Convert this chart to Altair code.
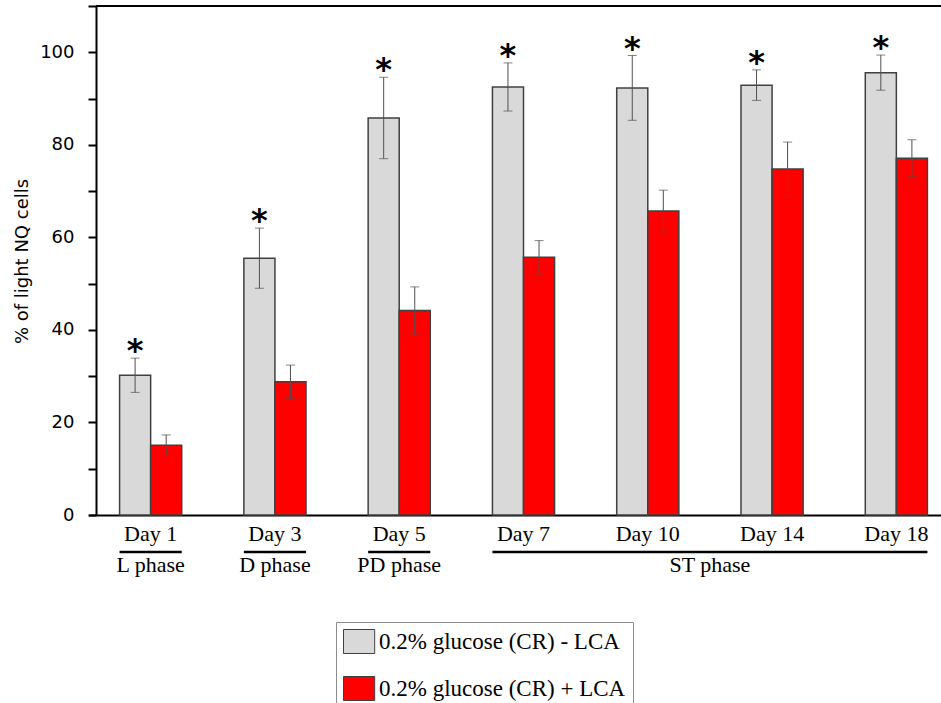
import altair as alt
import pandas as pd

days = ["Day 1", "Day 3", "Day 5", "Day 7", "Day 10", "Day 14", "Day 18"]
groups = ["0.2% glucose (CR) - LCA", "0.2% glucose (CR) + LCA"]
minus_mean = [30.2, 55.5, 85.8, 92.5, 92.3, 92.9, 95.6]
minus_err = [3.7, 6.5, 8.8, 5.2, 7.0, 3.3, 3.8]
plus_mean = [15.1, 28.8, 44.2, 55.7, 65.7, 74.8, 77.1]
plus_err = [2.2, 3.6, 5.1, 3.6, 4.5, 5.8, 4.0]
significant = [True, True, True, True, True, True, True]

phase_names = ["L phase", "D phase", "PD phase", "ST phase"]
phase_first = ["Day 1", "Day 3", "Day 5", "Day 7"]
phase_last = ["Day 1", "Day 3", "Day 5", "Day 18"]
phase_label_at = ["Day 1", "Day 3", "Day 5", "Day 10"]

colors = ["#d9d9d9", "#ff0000"]

rows = []
for g, means, errs in [(groups[0], minus_mean, minus_err), (groups[1], plus_mean, plus_err)]:
    for i, d in enumerate(days):
        rows.append({"day": d, "group": g, "mean": means[i],
                     "lo": means[i] - errs[i], "hi": means[i] + errs[i],
                     "sig": significant[i] if g == groups[0] else False})
df = pd.DataFrame(rows)
phases = pd.DataFrame({"phase": phase_names, "first": phase_first,
                       "last": phase_last, "label_at": phase_label_at})

W, H = 845, 509
xs = alt.Scale(domain=days, range=[-7.5, 862.5], paddingInner=0, paddingOuter=0)
xo = alt.XOffset("group:N", scale=alt.Scale(domain=groups, paddingInner=0, paddingOuter=1))
ys = alt.Scale(domain=[0, 110], nice=False, zero=True)

yaxis = alt.Axis(values=list(range(0, 111, 10)),
                 labelExpr="datum.value % 20 == 0 ? datum.label : ''",
                 tickSize=8, tickWidth=2, tickColor="black",
                 domainColor="black", domainWidth=2, grid=False,
                 labelFont="DejaVu Sans", labelFontSize=18, labelColor="black",
                 labelPadding=14, title="% of light NQ cells",
                 titleFont="DejaVu Sans", titleFontSize=18, titleFontWeight="normal",
                 titleColor="black", titleX=-74, titleY=255, titleAlign="center",
                 titleBaseline="middle", titleAngle=270)
xaxis = alt.Axis(title=None, ticks=False, tickSize=0, domainColor="black", domainWidth=2,
                 labelFont="Liberation Serif", labelFontSize=22, labelColor="black",
                 labelPadding=8, labelAngle=0, grid=False)

base = alt.Chart(df)
X = alt.X("day:N", scale=xs, axis=xaxis)

bars = base.mark_bar(stroke="#404040", strokeWidth=1.5).encode(
    x=X,
    xOffset=xo,
    y=alt.Y("mean:Q", scale=ys, axis=yaxis),
    color=alt.Color("group:N", scale=alt.Scale(domain=groups, range=colors),
                    legend=alt.Legend(title=None, orient="none", legendX=240, legendY=616,
                                      padding=7, strokeColor="#8c8c8c", fillColor="white",
                                      symbolType="M-1,-1H1.6V1H-1Z", symbolSize=576,
                                      symbolStrokeColor="#404040", symbolStrokeWidth=1,
                                      symbolOpacity=1,
                                      labelFont="Liberation Serif", labelFontSize=23,
                                      labelColor="black", labelOffset=11, rowPadding=18,
                                      labelLimit=400)),
)

errs = base.mark_rule(color="#505050", strokeWidth=1).encode(
    x=X, xOffset=xo, y=alt.Y("lo:Q", scale=ys, axis=yaxis), y2="hi:Q")
cap_hi = base.mark_tick(color="#505050", thickness=1, size=9).encode(
    x=X, xOffset=xo, y=alt.Y("hi:Q", scale=ys, axis=yaxis))
cap_lo = base.mark_tick(color="#505050", thickness=1, size=9).encode(
    x=X, xOffset=xo, y=alt.Y("lo:Q", scale=ys, axis=yaxis))

stars = base.transform_filter("datum.sig").mark_text(
    text="*", font="DejaVu Sans", fontWeight="bold", fontSize=32,
    baseline="alphabetic", dy=3, color="black").encode(
    x=X, xOffset=xo, y=alt.Y("hi:Q", scale=ys, axis=yaxis))

top_line = alt.Chart(df).mark_rule(color="black", strokeWidth=2).encode(
    y=alt.datum(110, scale=ys, axis=yaxis))

pbase = alt.Chart(phases)
phase_lines = pbase.mark_rule(color="black", strokeWidth=2.5).encode(
    x=alt.X("first:N", scale=xs, axis=xaxis, bandPosition=0.25),
    x2=alt.X2("last:N", bandPosition=0.75),
    y=alt.value(H + 37))
phase_text1 = pbase.transform_filter("datum.first == datum.last").mark_text(
    font="Liberation Serif", fontSize=22, baseline="alphabetic", color="black").encode(
    x=alt.X("label_at:N", scale=xs, axis=xaxis, bandPosition=0.5),
    y=alt.value(H + 57), text="phase:N")
phase_text2 = pbase.transform_filter("datum.first != datum.last").mark_text(
    font="Liberation Serif", fontSize=22, baseline="alphabetic", color="black").encode(
    x=alt.X("label_at:N", scale=xs, axis=xaxis, bandPosition=1),
    y=alt.value(H + 57), text="phase:N")

chart = alt.layer(bars, errs, cap_hi, cap_lo, stars, top_line,
                  phase_lines, phase_text1, phase_text2).properties(
    width=W, height=H,
    autosize=alt.AutoSizeParams(type="none"),
    padding={"left": 96, "top": 6, "right": 0, "bottom": 188},
    background="white",
).configure_view(stroke=None)

chart.save("out.html", embed_options={"renderer": "svg", "actions": False})
